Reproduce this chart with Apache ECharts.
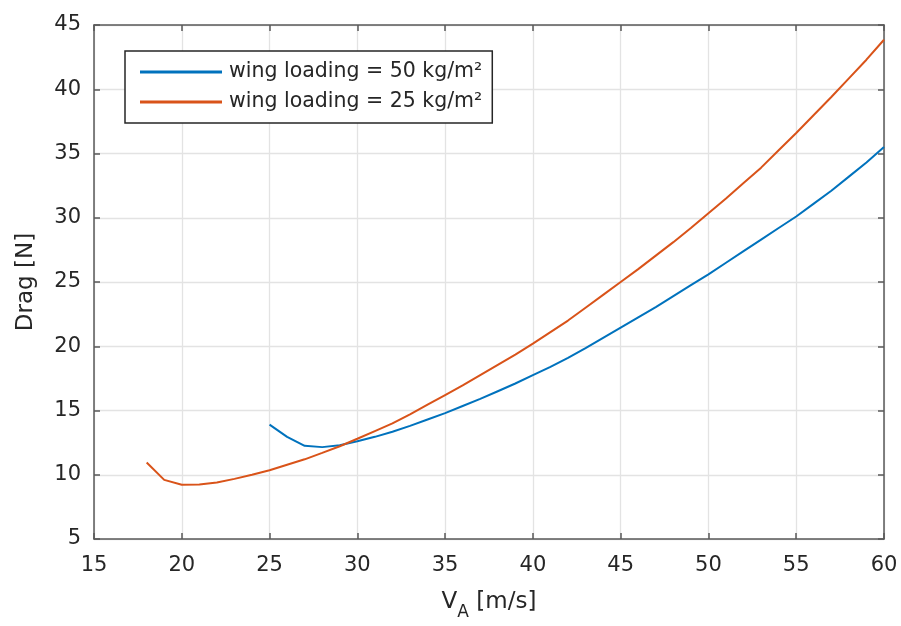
<!DOCTYPE html>
<html>
<head>
<meta charset="utf-8">
<script src="https://cdn.jsdelivr.net/npm/echarts@6/dist/echarts.min.js"></script>
<style>
html,body{margin:0;padding:0;background:#fff;}
#chart{width:901px;height:626px;}
</style>
</head>
<body>
<div id="chart"></div>
<script>
const speeds50 = [25,26,27,28,29,30,31,32,33,34,35,36,37,38,39,40,41,42,43,44,45,46,47,48,49,50,51,52,53,54,55,56,57,58,59,60];
const drag50 = [13.9,12.95,12.25,12.15,12.3,12.6,12.95,13.35,13.8,14.3,14.8,15.35,15.9,16.5,17.1,17.75,18.4,19.1,19.85,20.65,21.45,22.25,23.05,23.9,24.75,25.6,26.5,27.4,28.3,29.2,30.1,31.1,32.1,33.2,34.3,35.5];
const speeds25 = [18,19,20,21,22,23,24,25,26,27,28,29,30,31,32,33,34,35,36,37,38,39,40,41,42,43,44,45,46,47,48,49,50,51,52,53,54,55,56,57,58,59,60];
const drag25 = [10.95,9.6,9.22,9.25,9.4,9.68,10.0,10.35,10.78,11.2,11.7,12.22,12.8,13.4,14.0,14.7,15.45,16.2,16.95,17.75,18.55,19.35,20.2,21.1,22.0,23.0,24.0,25.0,26.0,27.05,28.1,29.2,30.35,31.5,32.7,33.9,35.25,36.6,38.0,39.4,40.85,42.3,43.85];
const seriesNames = ['wing loading = 50 kg/m²', 'wing loading = 25 kg/m²'];
const xRange = [15, 60, 5];
const yRange = [5, 45, 5];

const FONT = '"DejaVu Sans", Verdana, sans-serif';
const TXT = '#262626';
const AX = '#5a5a5a';
const GRID = '#e3e3e3';

const chart = echarts.init(document.getElementById('chart'), null, {renderer: 'canvas'});

function xAx(pos, show) {
  return {
    type: 'value', position: pos, min: xRange[0], max: xRange[1], interval: xRange[2],
    axisLine: {show: true, onZero: false, lineStyle: {color: AX, width: 1.5}},
    axisTick: {show: true, inside: true, length: 6, lineStyle: {color: AX, width: 1.5}},
    axisLabel: {show: show, color: TXT, fontFamily: FONT, fontSize: 21, margin: 16},
    splitLine: {show: show, lineStyle: {color: GRID, width: 1.3}},
    name: show ? '{v|V}{s|A}{v| [m/s]}' : '',
    nameLocation: 'middle', nameGap: 52,
    nameTextStyle: {
      color: TXT, fontFamily: FONT,
      rich: {
        v: {fontSize: 23, color: TXT, fontFamily: FONT, lineHeight: 30, verticalAlign: 'top'},
        s: {fontSize: 17, color: TXT, fontFamily: FONT, lineHeight: 30, verticalAlign: 'bottom'}
      }
    }
  };
}
function yAx(pos, show) {
  return {
    type: 'value', position: pos, min: yRange[0], max: yRange[1], interval: yRange[2],
    axisLine: {show: true, onZero: false, lineStyle: {color: AX, width: 1.5}},
    axisTick: {show: true, inside: true, length: 6, lineStyle: {color: AX, width: 1.5}},
    axisLabel: {show: show, color: TXT, fontFamily: FONT, fontSize: 21, margin: 13},
    splitLine: {show: show, lineStyle: {color: GRID, width: 1.3}},
    name: show ? 'Drag [N]' : '',
    nameLocation: 'middle', nameGap: 56, nameRotate: 90,
    nameTextStyle: {color: TXT, fontFamily: FONT, fontSize: 23}
  };
}

chart.setOption({
  backgroundColor: '#ffffff',
  animation: false,
  grid: {left: 94, right: 17, top: 25, bottom: 84, containLabel: false},
  xAxis: [xAx('bottom', true), xAx('top', false)],
  yAxis: [yAx('left', true), yAx('right', false)],
  legend: {
    orient: 'vertical', left: 125, top: 51,
    backgroundColor: '#fff', borderColor: '#262626', borderWidth: 1.5,
    padding: [9, 10, 9, 15],
    itemWidth: 82, itemHeight: 3, itemGap: 6, icon: 'rect',
    textStyle: {color: TXT, fontFamily: FONT, fontSize: 20.5, lineHeight: 24, padding: [0,0,0,2]},
    data: seriesNames
  },
  series: [
    {
      name: seriesNames[0], type: 'line', showSymbol: false, symbol: 'none',
      xAxisIndex: 0, yAxisIndex: 0,
      data: speeds50.map((v, i) => [v, drag50[i]]),
      lineStyle: {color: '#0072BD', width: 2}, itemStyle: {color: '#0072BD'}
    },
    {
      name: seriesNames[1], type: 'line', showSymbol: false, symbol: 'none',
      xAxisIndex: 0, yAxisIndex: 0,
      data: speeds25.map((v, i) => [v, drag25[i]]),
      lineStyle: {color: '#D95319', width: 2}, itemStyle: {color: '#D95319'}
    }
  ]
});
</script>
</body>
</html>
